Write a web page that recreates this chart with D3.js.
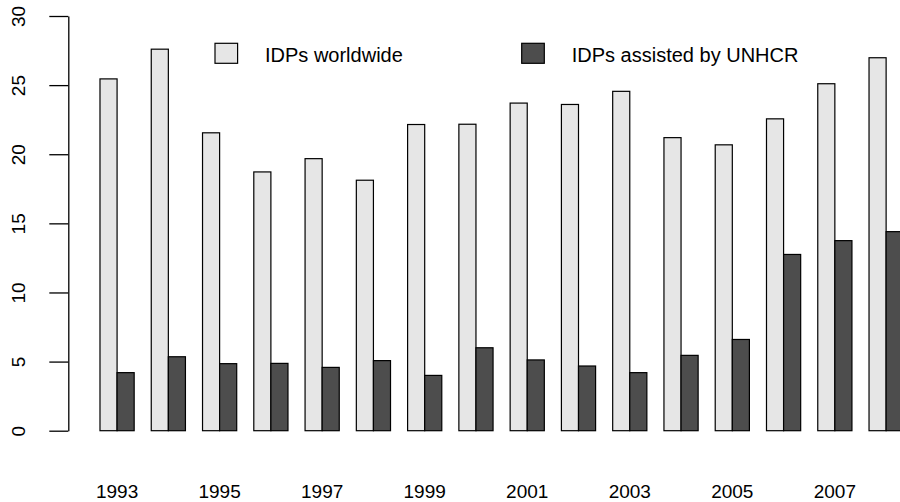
<!DOCTYPE html>
<html>
<head>
<meta charset="utf-8">
<script src="https://cdn.jsdelivr.net/npm/d3@7"></script>
<style>
  body { margin: 0; background: #fff; }
  svg { display: block; font-family: "Liberation Sans", Arial, Helvetica, sans-serif; }
</style>
</head>
<body>
<svg id="chart" width="900" height="502"></svg>
<script>
const years = d3.range(1993, 2009);
const worldwide = [25.45, 27.6, 21.55, 18.72, 19.68, 18.12, 22.15, 22.17, 23.7, 23.6,
                   24.55, 21.2, 20.68, 22.56, 25.1, 26.98];
const assisted = [4.2, 5.35, 4.85, 4.87, 4.58, 5.07, 4.0, 6.0, 5.12, 4.68,
                  4.2, 5.45, 6.6, 12.75, 13.75, 14.4];
const yTicks = [0, 5, 10, 15, 20, 25, 30];
const xLabels = [1993, 1995, 1997, 1999, 2001, 2003, 2005, 2007];
const seriesNames = ["IDPs worldwide", "IDPs assisted by UNHCR"];
const colors = ["#e6e6e6", "#4d4d4d"];

const svg = d3.select("#chart");

// group bands: two bars + one bar-width gap, like barplot(beside=TRUE)
const x0 = d3.scaleBand().domain(years).range([82.9, 920.3])
  .paddingInner(1 / 3).paddingOuter(1 / 3);
const x1 = d3.scaleBand().domain([0, 1]).range([0, x0.bandwidth()]);
const y = d3.scaleLinear().domain([0, 30]).range([430.7, 16]);

const rows = years.map((yr, i) => ({ year: yr, vals: [worldwide[i], assisted[i]] }));

const groups = svg.append("g").selectAll("g")
  .data(rows).join("g")
  .attr("transform", d => `translate(${x0(d.year)},0)`);

groups.selectAll("rect")
  .data(d => d.vals.map((v, k) => ({ v, k })))
  .join("rect")
  .attr("x", d => x1(d.k))
  .attr("width", x1.bandwidth())
  .attr("y", d => y(d.v))
  .attr("height", d => y(0) - y(d.v))
  .attr("fill", d => colors[d.k])
  .attr("stroke", "#000")
  .attr("stroke-width", 1.2);

// y axis, R style
const yAxis = svg.append("g")
  .attr("transform", "translate(68.3,0)")
  .call(d3.axisLeft(y).tickValues(yTicks).tickSize(19).tickSizeOuter(0));
yAxis.select(".domain").attr("stroke", "#000").attr("stroke-width", 1.3);
yAxis.selectAll(".tick line").attr("stroke", "#000").attr("stroke-width", 1.3);
yAxis.selectAll(".tick text")
  .attr("transform", "rotate(-90)")
  .attr("x", 0).attr("y", -43.3).attr("dy", 0)
  .attr("text-anchor", "middle")
  .attr("fill", "#000")
  .style("font-size", "19px")
  .style("font-family", "'Liberation Sans', Arial, Helvetica, sans-serif");

// year labels
svg.append("g").selectAll("text")
  .data(xLabels).join("text")
  .attr("x", d => x0(d) + x0.bandwidth() / 2)
  .attr("y", 498)
  .attr("text-anchor", "middle")
  .style("font-size", "19px")
  .text(d => d);

// legend
const legendX = [215, 521.7];
const leg = svg.append("g").selectAll("g")
  .data(seriesNames).join("g")
  .attr("transform", (d, i) => `translate(${legendX[i]},43.3)`);
leg.append("rect")
  .attr("width", 22.6).attr("height", 20)
  .attr("fill", (d, i) => colors[i])
  .attr("stroke", "#000").attr("stroke-width", 1.2);
leg.append("text")
  .attr("x", 50).attr("y", 18.4)
  .style("font-size", "20px")
  .text(d => d);
</script>
</body>
</html>
